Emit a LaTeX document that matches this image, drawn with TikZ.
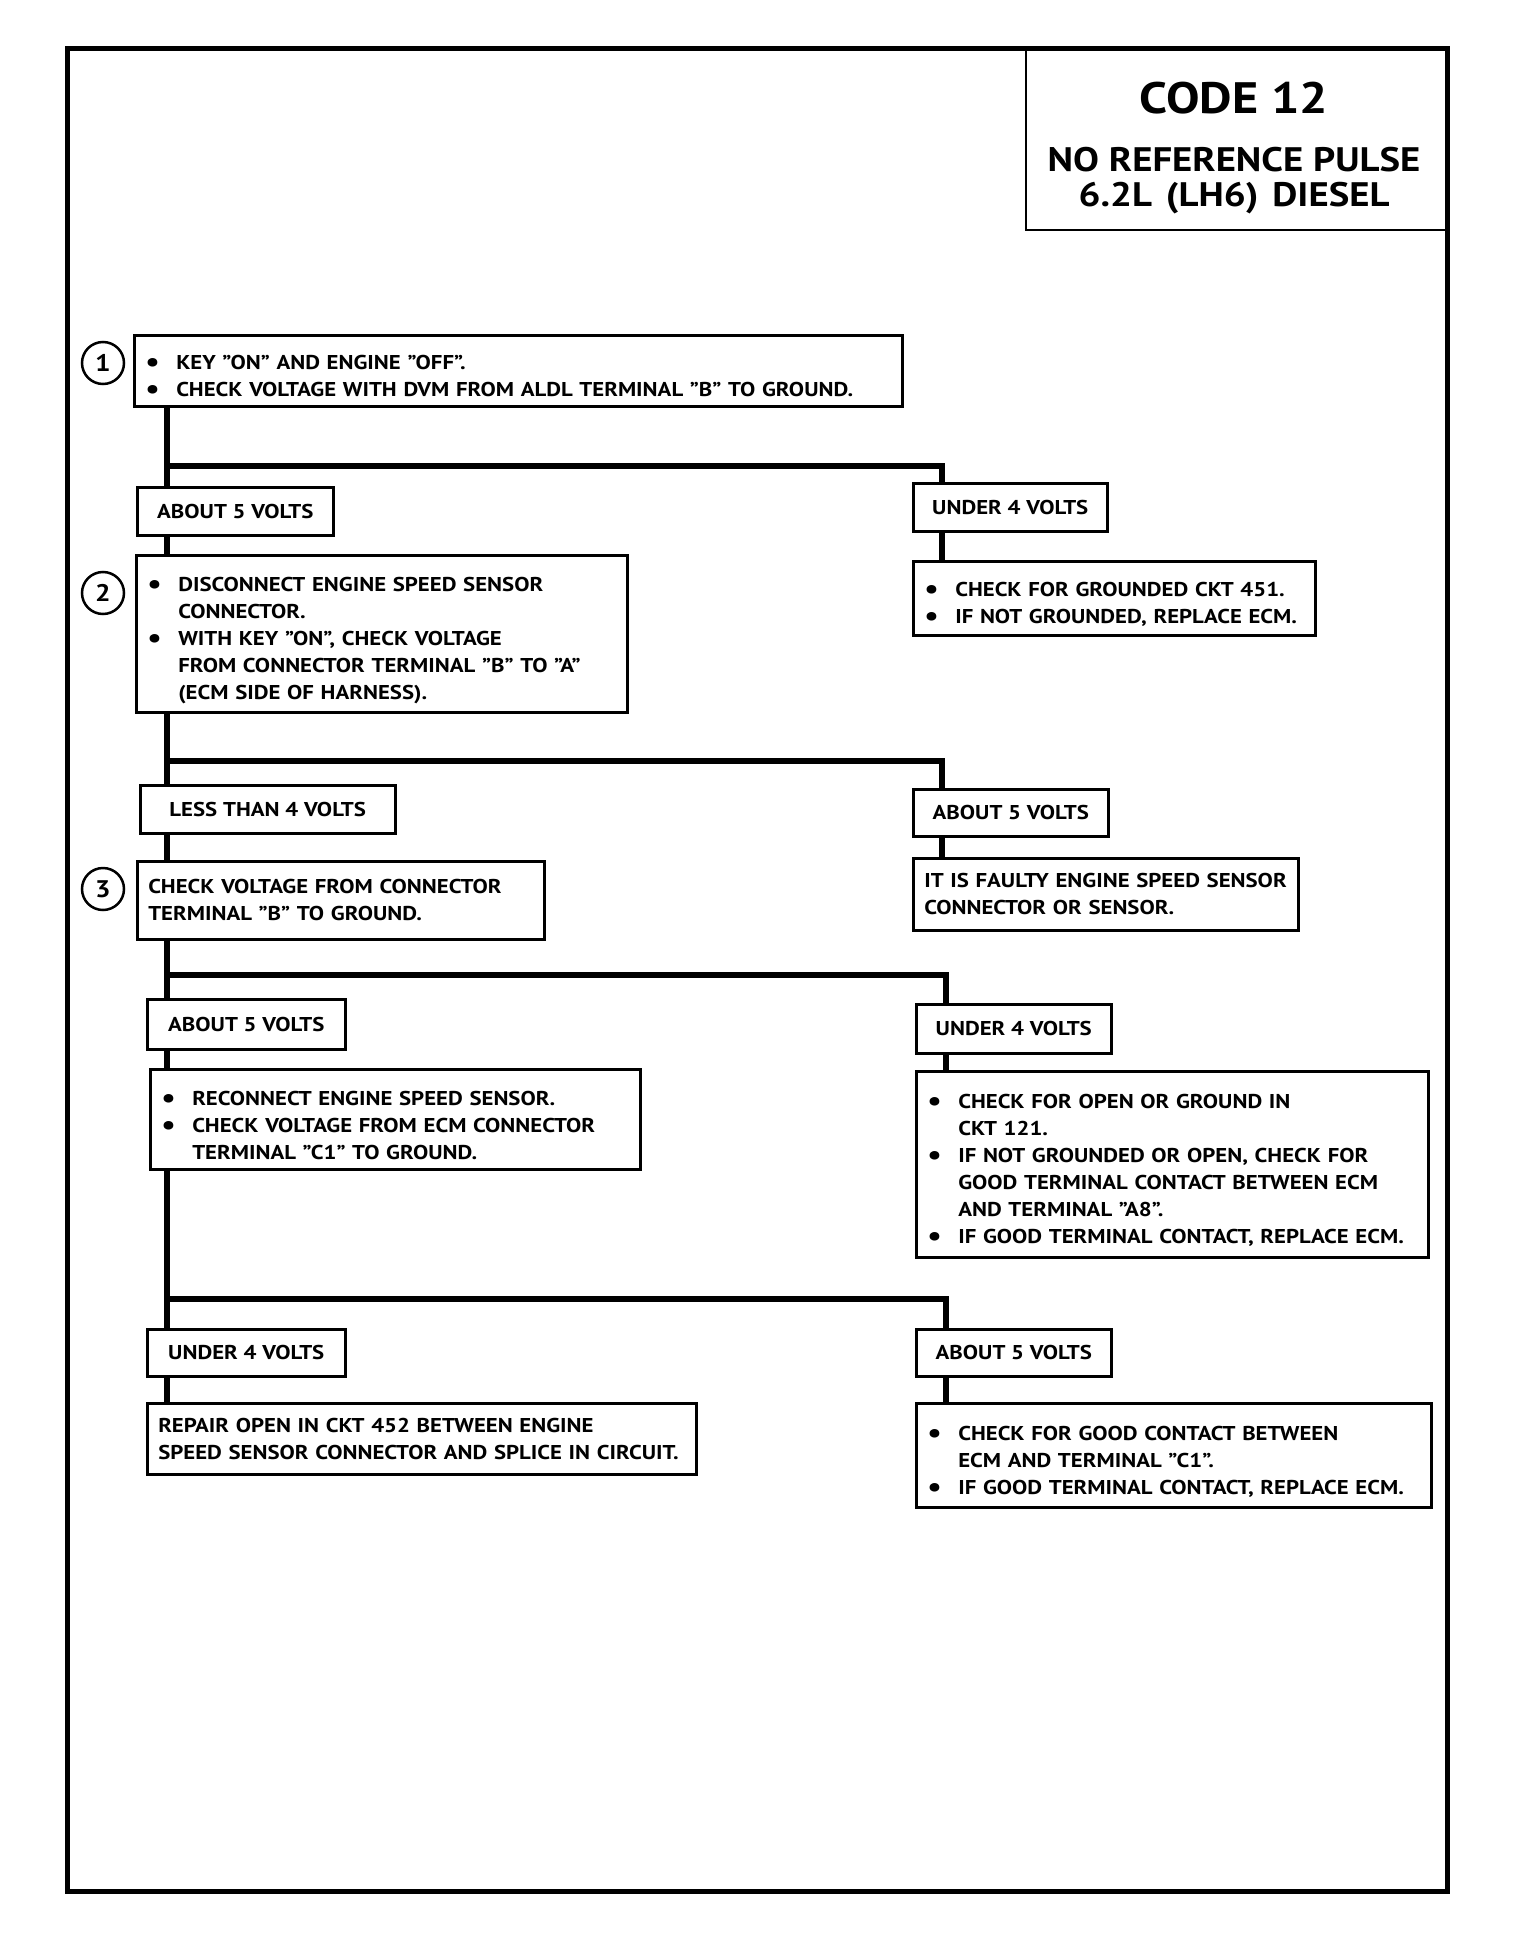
\documentclass[tikz,border=0pt]{standalone}
\usepackage{fontspec}
\setmainfont[FakeStretch=1.14]{PT Sans}
\usepackage{tikz}
\usetikzlibrary{positioning}
\newcommand{\bodyfont}{\fontsize{20}{27}\selectfont\bfseries}
\newcommand{\lpad}{\leftskip=8pt\relax}
\newcommand{\bdot}{\raisebox{-2pt}{\fontsize{28}{0}\selectfont\textbullet}}
\newcommand{\bitem}{\par\noindent\lpad\hangindent=31pt\hangafter=1\makebox[31pt][l]{\bdot}}
\tikzset{
  stepbox/.style={draw=black,line width=2.5pt,anchor=north west,inner xsep=3pt,
                  inner ysep=4pt,align=left,font=\bodyfont},
  vlabel/.style={draw=black,line width=2.5pt,anchor=north west,inner sep=0pt,
                 align=center,font=\bodyfont},
  numc/.style={circle,draw=black,line width=2.5pt,minimum size=42pt,inner sep=0pt,
               font=\fontsize{24}{24}\selectfont\bfseries},
  flow/.style={line width=6pt,line join=miter},
}
\begin{document}
\begin{tikzpicture}[x=1pt,y=-1pt]
  \useasboundingbox (0,0) rectangle (1520,1942);
  % frame and title
  \draw[line width=5pt] (67,49) rectangle (1447,1891);
  \node[draw=black,line width=2.5pt,anchor=north east,minimum width=420pt,
        minimum height=180pt] (title) at (1447,49) {};
  \node[font=\fontsize{44}{44}\selectfont\bfseries] (code) at (1234,98) {CODE 12};
  \node[font=\fontsize{34}{34}\selectfont\bfseries] (sub1) at (1234,160) {NO REFERENCE PULSE};
  \node[font=\fontsize{34}{34}\selectfont\bfseries] (sub2) at (1234,198) {6.2L\hspace{14pt}(LH6)\hspace{14pt}DIESEL};

  % step 1
  \node[stepbox,text width=762pt,minimum height=71pt] (s1) at (133,334)
    {\bitem KEY "ON" AND ENGINE "OFF".
     \bitem CHECK VOLTAGE WITH DVM FROM ALDL TERMINAL "B" TO GROUND.\par};
  \node[numc] (n1) at (103,363) {1};
  \coordinate (b1) at (167,466);
  \coordinate (b1r) at (942,466);
  \node[vlabel,minimum width=196pt,minimum height=48pt] (la1) at (136,486) {ABOUT 5 VOLTS};
  \node[vlabel,minimum width=194pt,minimum height=48pt] (lb1) at (912,482) {UNDER 4 VOLTS};
  \node[stepbox,text width=396pt,minimum height=74pt] (r1) at (912,560)
    {\bitem CHECK FOR GROUNDED CKT 451.
     \bitem IF NOT GROUNDED, REPLACE ECM.\par};

  % step 2
  \node[stepbox,text width=485pt,minimum height=157pt] (s2) at (135,554)
    {\bitem DISCONNECT ENGINE SPEED SENSOR\newline CONNECTOR.
     \bitem WITH KEY "ON", CHECK VOLTAGE\newline FROM CONNECTOR TERMINAL "B" TO "A"\newline (ECM SIDE OF HARNESS).\par};
  \node[numc] (n2) at (103,593) {2};
  \coordinate (b2) at (167,761);
  \coordinate (b2r) at (942,761);
  \node[vlabel,minimum width=255pt,minimum height=48pt] (la2) at (139,784) {LESS THAN 4 VOLTS};
  \node[vlabel,minimum width=195pt,minimum height=47pt] (lb2) at (912,788) {ABOUT 5 VOLTS};
  \node[stepbox,text width=379pt,minimum height=72pt] (r2) at (912,857)
    {\lpad IT IS FAULTY ENGINE SPEED SENSOR\newline CONNECTOR OR SENSOR.\par};

  % step 3
  \node[stepbox,text width=401pt,minimum height=78pt] (s3) at (136,860)
    {\lpad CHECK VOLTAGE FROM CONNECTOR\newline TERMINAL "B" TO GROUND.\par};
  \node[numc] (n3) at (103,889) {3};
  \coordinate (b3) at (167,975);
  \coordinate (b3r) at (946,975);
  \node[vlabel,minimum width=198pt,minimum height=50pt] (la3) at (146,998) {ABOUT 5 VOLTS};
  \node[vlabel,minimum width=195pt,minimum height=49pt] (lb3) at (915,1003) {UNDER 4 VOLTS};
  \node[stepbox,text width=484pt,minimum height=100pt] (s4) at (149,1068)
    {\bitem RECONNECT ENGINE SPEED SENSOR.
     \bitem CHECK VOLTAGE FROM ECM CONNECTOR\newline TERMINAL "C1" TO GROUND.\par};
  \node[stepbox,text width=506pt,minimum height=186pt] (r3) at (915,1070)
    {\bitem CHECK FOR OPEN OR GROUND IN\newline CKT 121.
     \bitem IF NOT GROUNDED OR OPEN, CHECK FOR\newline GOOD TERMINAL CONTACT BETWEEN ECM\newline AND TERMINAL "A8".
     \bitem IF GOOD TERMINAL CONTACT, REPLACE ECM.\par};

  % step 4
  \coordinate (b4) at (167,1299);
  \coordinate (b4r) at (946,1299);
  \node[vlabel,minimum width=198pt,minimum height=47pt] (la4) at (146,1328) {UNDER 4 VOLTS};
  \node[vlabel,minimum width=195pt,minimum height=47pt] (lb4) at (915,1328) {ABOUT 5 VOLTS};
  \node[stepbox,text width=543pt,minimum height=71pt] (f1) at (146,1402)
    {\lpad REPAIR OPEN IN CKT 452 BETWEEN ENGINE\newline SPEED SENSOR CONNECTOR AND SPLICE IN CIRCUIT.\par};
  \node[stepbox,text width=509pt,minimum height=104pt] (f2) at (915,1402)
    {\bitem CHECK FOR GOOD CONTACT BETWEEN\newline ECM AND TERMINAL "C1".
     \bitem IF GOOD TERMINAL CONTACT, REPLACE ECM.\par};

  % connectors
  \draw[flow] (s1.south -| b1) -- (la1.north -| b1);
  \draw[flow] (b1) -- (b1r) -- (lb1.north -| b1r);
  \draw[flow] (la1.south -| b1) -- (s2.north -| b1);
  \draw[flow] (lb1.south -| b1r) -- (r1.north -| b1r);
  \draw[flow] (s2.south -| b2) -- (la2.north -| b2);
  \draw[flow] (b2) -- (b2r) -- (lb2.north -| b2r);
  \draw[flow] (la2.south -| b2) -- (s3.north -| b2);
  \draw[flow] (lb2.south -| b2r) -- (r2.north -| b2r);
  \draw[flow] (s3.south -| b3) -- (la3.north -| b3);
  \draw[flow] (b3) -- (b3r) -- (lb3.north -| b3r);
  \draw[flow] (la3.south -| b3) -- (s4.north -| b3);
  \draw[flow] (lb3.south -| b3r) -- (r3.north -| b3r);
  \draw[flow] (s4.south -| b4) -- (la4.north -| b4);
  \draw[flow] (b4) -- (b4r) -- (lb4.north -| b4r);
  \draw[flow] (la4.south -| b4) -- (f1.north -| b4);
  \draw[flow] (lb4.south -| b4r) -- (f2.north -| b4r);
\end{tikzpicture}
\end{document}
